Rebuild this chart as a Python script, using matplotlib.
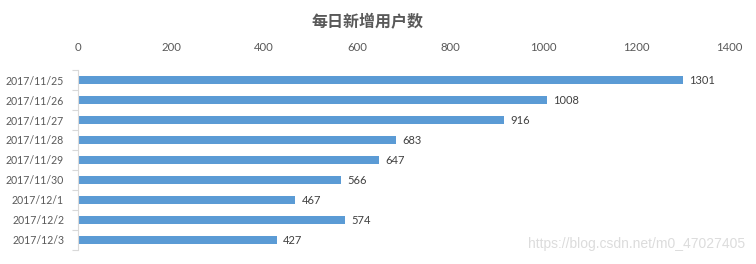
import numpy as np
import matplotlib.pyplot as plt

dates = ['2017/11/25', '2017/11/26', '2017/11/27', '2017/11/28', '2017/11/29',
         '2017/11/30', '2017/12/1', '2017/12/2', '2017/12/3']
new_users = [1301, 1008, 916, 683, 647, 566, 467, 574, 427]
x_ticks = [0, 200, 400, 600, 800, 1000, 1200, 1400]

plt.rcParams['font.family'] = ['Noto Sans CJK SC', 'DejaVu Sans']

fig = plt.figure(figsize=(7.56, 2.64), dpi=100)
ax = fig.add_axes([78 / 756, 14 / 264, 651 / 756, 180 / 264])

y = np.arange(len(dates))
ax.barh(y, new_users, height=0.4, color='#5B9BD5')
for yi, v in zip(y, new_users):
    ax.text(v + 14, yi, str(v), va='center', ha='left', fontsize=8,
            color='#404040', family='Lato')

ax.set_xlim(0, 1400)
ax.set_ylim(len(dates) - 0.5, -0.5)
ax.xaxis.tick_top()
ax.set_xticks(x_ticks)
ax.set_xticklabels([str(t) for t in x_ticks], family='Lato')
ax.tick_params(axis='x', length=0, pad=12, labelsize=8.2, labelcolor='#595959')

ax.set_yticks(y)
ax.set_yticklabels(dates, family='Lato')
ax.set_yticks(np.arange(-0.5, len(dates)), minor=True)
ax.tick_params(axis='y', which='major', length=0, pad=10, labelsize=7.6,
               labelcolor='#595959')
ax.tick_params(axis='y', which='minor', length=4, color='#d9d9d9', width=0.8)

for s in ['top', 'right', 'bottom']:
    ax.spines[s].set_visible(False)
ax.spines['left'].set_color('#d9d9d9')
ax.spines['left'].set_linewidth(0.8)

fig.text(368 / 756, 1 - 22 / 264, '每日新增用户数', ha='center', va='center',
         fontsize=11.5, fontweight='bold', color='#595959')
fig.text(745 / 756, 1 - 244 / 264, 'https://blog.csdn.net/m0_47027405',
         ha='right', va='center', fontsize=10, color='#dcdcdc',
         family='Liberation Sans')

fig.savefig('out.png', dpi=100)
